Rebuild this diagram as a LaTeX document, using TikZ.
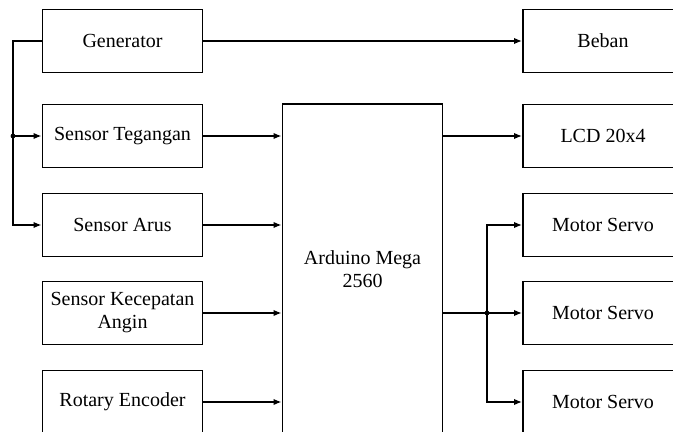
\documentclass[tikz,border=0pt]{standalone}
\usepackage{fontspec}
\setmainfont{Liberation Serif}
\usetikzlibrary{arrows.meta}
\begin{document}
\begin{tikzpicture}[x=0.5pt,y=-0.5pt,line width=0.9pt,>={Latex[length=4pt,width=3.2pt]},
	block/.style={draw,rectangle,minimum width=80pt,minimum height=31.5pt,align=center,
		font=\fontsize{10}{11.5}\selectfont}]
	\useasboundingbox (0,0) rectangle (673,432);

	\node[block] (gen) at (122.5,41) {Generator};
	\node[block] (teg) at (122.5,136) {Sensor Tegangan};
	\node[block] (arus) at (122.5,225) {Sensor Arus};
	\node[block] (angin) at (122.5,313) {Sensor Kecepatan\\Angin};
	\node[block] (enc) at (122.5,402) {Rotary Encoder};

	\node[block,minimum height=165pt] (ard) at (362.5,269) {Arduino Mega\\2560};

	\node[block] (beban) at (603,41) {Beban};
	\node[block] (lcd) at (603,136) {LCD 20x4};
	\node[block] (servo1) at (603,225) {Motor Servo};
	\node[block] (servo2) at (603,313) {Motor Servo};
	\node[block] (servo3) at (603,402) {Motor Servo};

	\coordinate (bustop) at (13,41);
	\coordinate (busmid) at (13,136);
	\coordinate (busbot) at (13,225);
	\coordinate (split) at (487,313);

	\draw[->] (gen) -- (beban);
	\draw[->] (gen.west) -- (bustop) -- (busbot) -- (arus.west);
	\draw[->] (busmid) -- (teg.west);
	\fill (busmid) circle (1.2pt);

	\draw[->] (teg) -- (teg -| ard.west);
	\draw[->] (arus) -- (arus -| ard.west);
	\draw[->] (angin) -- (angin -| ard.west);
	\draw[->] (enc) -- (enc -| ard.west);

	\draw[->] (lcd -| ard.east) -- (lcd);
	\draw (servo2 -| ard.east) -- (split);
	\draw[->] (split) -- (servo2);
	\draw[->] (split) |- (servo1);
	\draw[->] (split) |- (servo3);
	\fill (split) circle (1.2pt);
\end{tikzpicture}
\end{document}
